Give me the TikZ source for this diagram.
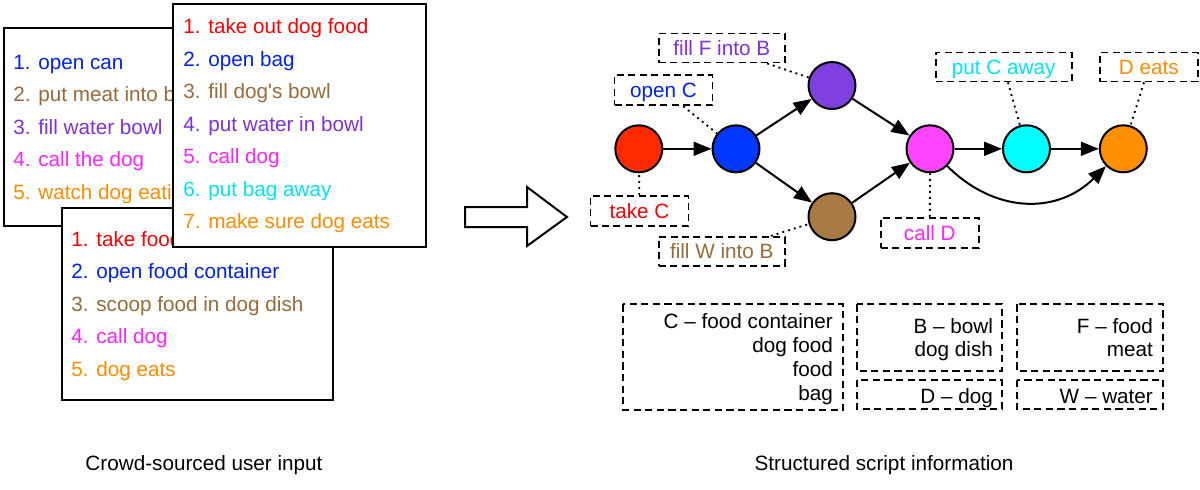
\documentclass[tikz,border=0pt]{standalone}
\usepackage{fontspec}
\setmainfont{Liberation Sans}
\usetikzlibrary{arrows.meta}
\definecolor{tred}{HTML}{FF0000}
\definecolor{tblue}{HTML}{0022F0}
\definecolor{tbrown}{HTML}{9A6A38}
\definecolor{tpurple}{HTML}{8030E0}
\definecolor{tmag}{HTML}{FF22FF}
\definecolor{tcyan}{HTML}{00E4F4}
\definecolor{torange}{HTML}{FF8C00}
\definecolor{nred}{HTML}{FF2A00}
\definecolor{nblue}{HTML}{0038FF}
\definecolor{npurple}{HTML}{8040E0}
\definecolor{nbrown}{HTML}{A87B45}
\definecolor{nmag}{HTML}{FF44FF}
\definecolor{ncyan}{HTML}{00FFFF}
\definecolor{norange}{HTML}{FF9000}
\begin{document}
\begin{tikzpicture}[x=0.5pt,y=-0.5pt,
  every node/.style={font=\fontsize{10.35pt}{12pt}\selectfont, inner sep=0pt},
  listbox/.style={draw=black, fill=white, line width=1pt},
  item/.style={anchor=base west},
  gnode/.style={circle, draw=black, line width=1pt, minimum size=23.5pt},
  lab/.style={draw=black, line width=0.9pt, dash pattern=on 3.5pt off 2.2pt,
              minimum width=49pt, minimum height=15pt, text height=0.75em, text depth=0pt},
  legbox/.style={draw=black, line width=0.9pt, dash pattern=on 3.6pt off 2.2pt},
  legtext/.style={anchor=base east},
  conn/.style={line width=1pt, -{Triangle[length=9pt,width=7pt]}},
  dots/.style={line width=0.9pt, dash pattern=on 1pt off 2pt},
  bigarrow/.style={draw=black, fill=white, line width=1pt, line join=miter}
]
\useasboundingbox (0,0) rectangle (1200,489);

% ---- left: crowd-sourced lists ----
\draw[listbox] (4,28) rectangle (330,226);
\node[item, text=tblue]   (a1) at (13,69.5)  {1. open can};
\node[item, text=tbrown]  (a2) at (13,101.9) {2. put meat into b};
\node[item, text=tpurple] (a3) at (13,134.3) {3. fill water bowl};
\node[item, text=tmag]    (a4) at (13,166.7) {4. call the dog};
\node[item, text=torange] (a5) at (13,199.1) {5. watch dog eati};

\draw[listbox] (62,208) rectangle (333,400);
\node[item, text=tred]    (b1) at (71,246.3) {1. take food};
\node[item, text=tblue]   (b2) at (71,278.8) {2. open food container};
\node[item, text=tbrown]  (b3) at (71,311.3) {3. scoop food in dog dish};
\node[item, text=tmag]    (b4) at (71,343.8) {4. call dog};
\node[item, text=torange] (b5) at (71,376.3) {5. dog eats};

\draw[listbox] (173,4) rectangle (426,247);
\node[item, text=tred]    (c1) at (183,33.5)  {1. take out dog food};
\node[item, text=tblue]   (c2) at (183,66)    {2. open bag};
\node[item, text=tbrown]  (c3) at (183,98.5)  {3. fill dog\textquotesingle s bowl};
\node[item, text=tpurple] (c4) at (183,131)   {4. put water in bowl};
\node[item, text=tmag]    (c5) at (183,163.5) {5. call dog};
\node[item, text=tcyan]   (c6) at (183,196)   {6. put bag away};
\node[item, text=torange] (c7) at (183,228.5) {7. make sure dog eats};

% ---- big hollow arrow ----
\draw[bigarrow] (465,207) -- (527,207) -- (527,187) -- (567,217) -- (527,246) -- (527,227) -- (465,227) -- cycle;

% ---- graph ----
\node[gnode, fill=nred]    (red) at (638.8,148.8) {};
\node[gnode, fill=nblue]   (blu) at (736,148.8) {};
\node[gnode, fill=npurple] (pur) at (832,85.5) {};
\node[gnode, fill=nbrown]  (bro) at (832,216.7) {};
\node[gnode, fill=nmag]    (mag) at (930,148.8) {};
\node[gnode, fill=ncyan]   (cya) at (1026.5,148.8) {};
\node[gnode, fill=norange] (ora) at (1123.3,148.8) {};

\node[lab, text=tred]    (ltake) at (639.5,211)   {take C};
\node[lab, text=tblue]   (lopen) at (663.5,90.3)  {open C};
\node[lab, text=tpurple, minimum width=63pt, minimum height=14.5pt] (lfillF) at (721.8,48) {fill F into B};
\node[lab, text=tbrown,  minimum width=63pt, minimum height=14.5pt] (lfillW) at (721.8,251.3) {fill W into B};
\node[lab, text=tcyan,   minimum width=68pt, minimum height=14.5pt] (lput) at (1003.7,67) {put C away};
\node[lab, text=torange, minimum height=14.5pt] (leats) at (1148.8,67) {D eats};
\node[lab, text=tmag]    (lcall) at (929.8,232.7) {call D};

\draw[dots] (ltake) -- (red);
\draw[dots] (lopen) -- (blu);
\draw[dots] (lfillF) -- (pur);
\draw[dots] (lfillW) -- (bro);
\draw[dots] (lput) -- (cya);
\draw[dots] (leats) -- (ora);
\draw[dots] (lcall) -- (mag);

\draw[conn] (red) -- (blu);
\draw[conn] (blu) -- (pur);
\draw[conn] (blu) -- (bro);
\draw[conn] (pur) -- (mag);
\draw[conn] (bro) -- (mag);
\draw[conn] (mag) -- (cya);
\draw[conn] (cya) -- (ora);
\draw[conn] (mag.-45) .. controls +(48,48) and +(-48,48) .. (ora.-135);

% ---- legend ----
\draw[legbox] (623.3,304.3) rectangle (843.3,410);
\draw[legbox] (856.7,304.3) rectangle (1001.7,371);
\draw[legbox] (856.7,380) rectangle (1001.7,409);
\draw[legbox] (1016.7,304.3) rectangle (1163.3,371);
\draw[legbox] (1016.7,380) rectangle (1163.3,409);

\node[legtext] (cl1) at (833.3,328.3) {C -- food container};
\node[legtext] (cl2) at (833.3,352.3) {dog food};
\node[legtext] (cl3) at (833.3,376.3) {food};
\node[legtext] (cl4) at (833.3,400.3) {bag};
\node[legtext] (bl1) at (993.3,333.3) {B -- bowl};
\node[legtext] (bl2) at (993.3,356.5) {dog dish};
\node[legtext] (dl1) at (993.3,403.3) {D -- dog};
\node[legtext] (fl1) at (1153.3,333.3) {F -- food};
\node[legtext] (fl2) at (1153.3,356.5) {meat};
\node[legtext] (wl1) at (1153.3,403.3) {W -- water};

% ---- captions ----
\node (cap1) at (204,465) {Crowd-sourced user input};
\node (cap2) at (884,465) {Structured script information};
\end{tikzpicture}
\end{document}
